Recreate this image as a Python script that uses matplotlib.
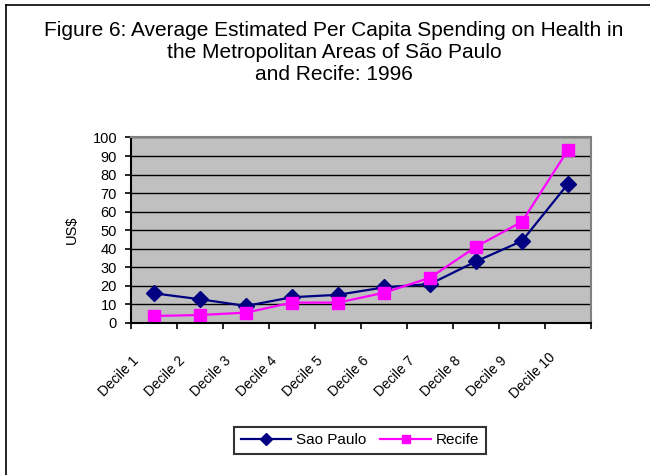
import matplotlib
matplotlib.use("Agg")
import matplotlib.pyplot as plt
import matplotlib.transforms as mtransforms
from matplotlib.lines import Line2D

plt.rcParams['font.family'] = ['Liberation Sans', 'DejaVu Sans']

deciles = ["Decile 1", "Decile 2", "Decile 3", "Decile 4", "Decile 5",
           "Decile 6", "Decile 7", "Decile 8", "Decile 9", "Decile 10"]
sao_paulo = [16.0, 12.8, 9.2, 13.9, 15.2, 19.2, 21.0, 33.2, 44.2, 75.0]
recife = [3.8, 4.3, 5.6, 11.0, 11.0, 16.3, 24.4, 41.1, 54.6, 93.3]
title_lines = ["Figure 6: Average Estimated Per Capita Spending on Health in",
               "the Metropolitan Areas of S\u00e3o Paulo",
               "and Recife: 1996"]

fig = plt.figure(figsize=(6.5, 4.75), dpi=100)
W, H = 650, 475
ax = fig.add_axes([131 / W, 1 - 323 / H, 460 / W, 185.5 / H])

# outer chart frame (only left and top edges fall inside the canvas)
fig.add_artist(Line2D([6 / W, 6 / W], [0, 1 - 5 / H], transform=fig.transFigure,
                      color='black', lw=1.2))
fig.add_artist(Line2D([6 / W, 1], [1 - 5 / H, 1 - 5 / H], transform=fig.transFigure,
                      color='black', lw=1.2))

# title, one line at a time
for i, line in enumerate(title_lines):
    fig.text(334 / W, 1 - (30 + 22 * i) / H, line, ha='center', va='center',
             fontsize=15)

ax.set_facecolor('#C0C0C0')
x = [i + 0.5 for i in range(len(deciles))]
ax.plot(x, sao_paulo, color='#000080', lw=1.6, marker='D', markersize=8.5,
        markerfacecolor='#000080', markeredgecolor='#000080', label='Sao Paulo')
ax.plot(x, recife, color='#FF00FF', lw=1.6, marker='s', markersize=8.5,
        markerfacecolor='#FF00FF', markeredgecolor='#FF00FF', label='Recife')

ax.set_xlim(0, len(deciles))
ax.set_ylim(0, 100)
ax.set_yticks(range(0, 101, 10))
ax.yaxis.grid(True, color='black', lw=1)
ax.set_axisbelow(True)
ax.set_xticks(range(0, len(deciles) + 1))
ax.set_xticklabels([])
ax.tick_params(axis='both', direction='out', length=4, width=1.2, colors='black',
               labelsize=10.5)
ax.tick_params(axis='y', pad=6)

for side in ['top', 'right']:
    ax.spines[side].set_color('#808080')
    ax.spines[side].set_linewidth(1.5)
for side in ['left', 'bottom']:
    ax.spines[side].set_color('black')
    ax.spines[side].set_linewidth(1.5)

ax.set_ylabel('US$', fontsize=10.5, labelpad=10)

# rotated category labels
offset = mtransforms.ScaledTranslation(-0.35, -0.53, fig.dpi_scale_trans)
trans = mtransforms.blended_transform_factory(ax.transData, ax.transAxes) + offset
for xi, lab in zip(x, deciles):
    ax.text(xi, 0, lab, transform=trans, rotation=45, rotation_mode='anchor',
            ha='center', va='center', fontsize=10,
            family=['Liberation Sans Narrow', 'Liberation Sans'])

leg = fig.legend(loc='center', bbox_to_anchor=(360 / W, 1 - 440.5 / H), ncol=2,
                 frameon=True, fancybox=False, fontsize=11, handlelength=3.3,
                 columnspacing=0.9, handletextpad=0.35, borderpad=0.4,
                 markerscale=0.75)
leg.get_frame().set_edgecolor('black')
leg.get_frame().set_linewidth(1.5)

fig.savefig('out.png', dpi=100)
